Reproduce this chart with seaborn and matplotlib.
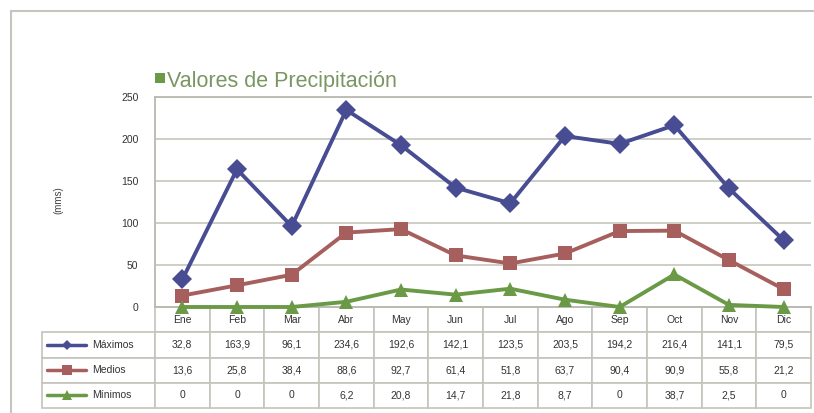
import pandas as pd
import seaborn as sns
import matplotlib.pyplot as plt
from matplotlib.lines import Line2D
from matplotlib.patches import Rectangle

meses = ['Ene', 'Feb', 'Mar', 'Abr', 'May', 'Jun', 'Jul', 'Ago', 'Sep', 'Oct', 'Nov', 'Dic']
maximos = [32.8, 163.9, 96.1, 234.6, 192.6, 142.1, 123.5, 203.5, 194.2, 216.4, 141.1, 79.5]
medios = [13.6, 25.8, 38.4, 88.6, 92.7, 61.4, 51.8, 63.7, 90.4, 90.9, 55.8, 21.2]
minimos = [0, 0, 0, 6.2, 20.8, 14.7, 21.8, 8.7, 0, 38.7, 2.5, 0]
series = ['Máximos', 'Medios', 'Mínimos']
colores = ['#474c93', '#a65f5c', '#6b9a47']
marcadores = ['D', 's', '^']

W, H = 814, 413
sns.set_theme(style='white')
plt.rcParams['font.family'] = ['Liberation Sans', 'DejaVu Sans']

df = pd.DataFrame({
    'mes': meses * 3,
    'valor': maximos + medios + minimos,
    'serie': [s for s in series for _ in meses],
})

fig = plt.figure(figsize=(W / 100, H / 100), dpi=100)
ax_l, ax_r, ax_t, ax_b = 155, 811, 97, 307
ax = fig.add_axes([ax_l / W, 1 - ax_b / H, (ax_r - ax_l) / W, (ax_b - ax_t) / H])

sns.lineplot(data=df, x='mes', y='valor', hue='serie', style='serie',
             palette=dict(zip(series, colores)), markers=dict(zip(series, marcadores)),
             dashes=False, linewidth=2.8, markersize=10, markeredgewidth=0,
             legend=False, ax=ax, sort=False, zorder=3)
for ln in ax.lines:
    ln.set_clip_on(False)

ax.set_xlim(-0.5, 11.5)
ax.set_ylim(0, 250)
ax.set_yticks(range(0, 251, 50))
ax.yaxis.grid(True, color='#c9cac2', linewidth=1.3)
ax.set_xticks([])
ax.set_xlabel('')
ax.set_ylabel('')
ax.tick_params(axis='y', labelsize=7.5, colors='#333333', pad=12, length=0)
for s in ['left', 'top']:
    ax.spines[s].set_color('#b8b9b0')
    ax.spines[s].set_linewidth(1.3)
ax.spines['right'].set_visible(False)
ax.spines['bottom'].set_color('#b8b9b0')

# tabla de datos
aw = ax_r - ax_l
ah = ax_b - ax_t
def axx(px):
    return (px - ax_l) / aw
def axy(py):
    return (ax_b - py) / ah

tab_left, tab_bottom = 42, 408
filas = [[''] + meses]
for vals in [maximos, medios, minimos]:
    filas.append([''] + [('%g' % v).replace('.', ',') for v in vals])
x0 = axx(tab_left)
tbl = ax.table(cellText=filas, cellLoc='center',
               bbox=[x0, axy(tab_bottom), 1 - x0, axy(ax_b) - axy(tab_bottom)])
tbl.auto_set_font_size(False)
tbl.set_fontsize(7.5)
lab_w = (ax_l - tab_left) / aw
mes_w = 1 / 12
for (r, c), cell in tbl.get_celld().items():
    cell.set_edgecolor('#c3c4bb')
    cell.set_linewidth(1.2)
    cell.set_width(lab_w if c == 0 else mes_w)
    cell.get_text().set_color('#333333')
tbl[0, 0].set_linewidth(0)

row_h = (tab_bottom - ax_b) / 4
for i, (nom, col, mk) in enumerate(zip(series, colores, marcadores)):
    yc = axy(ax_b + row_h * (i + 1.5))
    ax.add_line(Line2D([axx(47), axx(86)], [yc, yc], color=col, linewidth=2.5,
                       transform=ax.transAxes, clip_on=False))
    ax.add_line(Line2D([axx(66.5)], [yc], color=col, marker=mk, linestyle='none',
                       markersize=7 if mk != 'D' else 5, markeredgewidth=0,
                       transform=ax.transAxes, clip_on=False))
    ax.text(axx(92), yc, nom, transform=ax.transAxes, ha='left', va='center',
            fontsize=7.5, color='#333333')

fig.text(58 / W, 1 - 200 / H, '(mms)', rotation=90, ha='center', va='center',
         fontsize=7, color='#444444')

# titulo
fig.patches.append(Rectangle((155 / W, 1 - 83 / H), 10 / W, 10 / H, transform=fig.transFigure,
                             facecolor='#6b9a47', edgecolor='none'))
fig.text(167 / W, 1 - 87 / H, 'Valores de Precipitación', ha='left', va='baseline',
         fontsize=15.5, color='#7a9663')

# marco exterior
fig.patches.append(Rectangle((11 / W, -0.05), 1.1, 1 - 11 / H + 0.05, transform=fig.transFigure,
                             facecolor='none', edgecolor='#c4c5bd', linewidth=1.5))

fig.savefig('out.png', dpi=100)
